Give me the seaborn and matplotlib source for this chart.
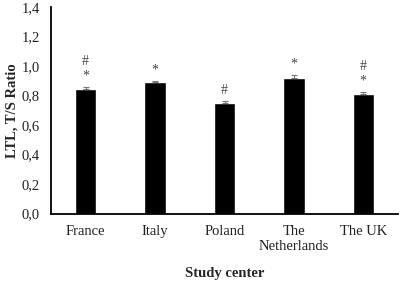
import matplotlib
matplotlib.use("Agg")
import matplotlib.pyplot as plt
import seaborn as sns
import pandas as pd

centers = ["France", "Italy", "Poland", "The\nNetherlands", "The UK"]
ltl = [0.846, 0.890, 0.750, 0.922, 0.814]
sem = [0.015, 0.011, 0.010, 0.018, 0.013]
marks = ["#\n*", "*", "#", "*", "#\n*"]
yticks = [0.0, 0.2, 0.4, 0.6, 0.8, 1.0, 1.2, 1.4]

sns.set_style("white")
plt.rcParams["font.family"] = ["Liberation Serif", "DejaVu Serif"]

df = pd.DataFrame({"center": centers, "ltl": ltl})

fig = plt.figure(figsize=(4.0, 2.84), dpi=100)
ax = fig.add_axes([0.1275, 0.248, 0.8675, 0.727])
sns.barplot(data=df, x="center", y="ltl", color="black", width=0.31,
            saturation=1, ax=ax, errorbar=None)
ax.errorbar(range(len(centers)), ltl, yerr=[[0]*len(sem), sem], fmt="none",
            ecolor="#777777", elinewidth=0.8, capsize=2.5, capthick=0.8)
for i, (v, e, m) in enumerate(zip(ltl, sem, marks)):
    ax.annotate(m, (i, v + e), xytext=(0, 3), textcoords="offset points",
                ha="center", va="bottom", fontsize=10, color="#444444",
                linespacing=1.15)

ax.set_xlim(-0.5, 4.5)
ax.set_ylim(0, 1.4)
ax.set_yticks(yticks)
ax.set_yticklabels([f"{t:.1f}".replace(".", ",") for t in yticks])
ax.tick_params(axis="both", length=0, labelsize=10.5, colors="#222222")
ax.tick_params(axis="y", pad=8)
ax.tick_params(axis="x", pad=8)
for s in ["top", "right"]:
    ax.spines[s].set_visible(False)
for s in ["left", "bottom"]:
    ax.spines[s].set_color("black")
    ax.spines[s].set_linewidth(1.3)
ax.set_xlabel("Study center", fontsize=10.5, fontweight="bold")
ax.set_ylabel("LTL, T/S Ratio", fontsize=10.5, fontweight="bold")
ax.xaxis.set_label_coords(0.5, -0.29)
ax.xaxis.label.set_va("center")
ax.yaxis.set_label_coords(-0.112, 0.5)
ax.yaxis.label.set_va("center")

fig.savefig("out.png", dpi=100)
